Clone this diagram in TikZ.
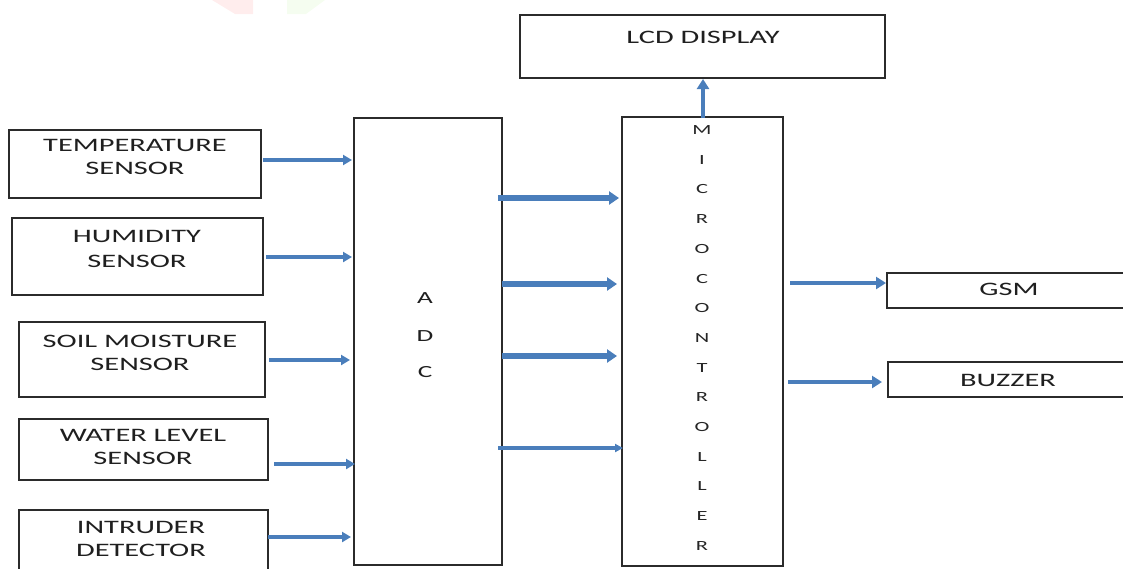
\documentclass[tikz,border=0pt]{standalone}
\usepackage{fontspec}
\setmainfont{Carlito}[FakeStretch=1.6]
\usetikzlibrary{arrows.meta}
\definecolor{arrowblue}{HTML}{4A7EBB}
\definecolor{boxline}{HTML}{2B2B2B}
\definecolor{wmpink}{HTML}{FFEDED}
\definecolor{wmgreen}{HTML}{F5FDF0}
\tikzset{
  blockbox/.style={draw=boxline, line width=1.7pt, fill=white},
  lbl/.style={anchor=base, inner sep=0pt, font=\fontsize{19}{23}\selectfont, text=black!88},
  adcl/.style={anchor=base, inner sep=0pt, font=\fontsize{17}{20}\selectfont, text=black!88},
  mcul/.style={anchor=base, inner sep=0pt, font=\fontsize{14}{16}\selectfont, text=black!85},
  inarrow/.style={draw=arrowblue, line width=4pt, -{Triangle[length=9pt,width=10pt]}},
  midarrow/.style={draw=arrowblue, line width=5.5pt, -{Triangle[length=10pt,width=13pt]}},
  thinarrow/.style={draw=arrowblue, line width=3.2pt, -{Triangle[length=8pt,width=8pt]}},
  outarrow/.style={draw=arrowblue, line width=4.8pt, -{Triangle[length=10pt,width=12pt]}},
}
\begin{document}
\begin{tikzpicture}[x=1pt,y=-1pt]
\useasboundingbox (0,0) rectangle (1123,568);
% faint watermark fragments
\fill[wmpink] (212,0) -- (253,0) -- (253,14) -- (235,14) -- cycle;
\fill[wmgreen] (287,0) -- (325,0) -- (306,14) -- (287,14) -- cycle;
% boxes
\draw[blockbox] (520,15) rectangle (885,78);
\draw[blockbox] (622,117) rectangle (783,566);
\draw[blockbox] (354,118) rectangle (502,565);
\draw[blockbox] (9,130) rectangle (261,198);
\draw[blockbox] (12,218) rectangle (263,295);
\draw[blockbox] (19,322) rectangle (265,397);
\draw[blockbox] (19,419) rectangle (268,480);
\draw[blockbox] (19,510) rectangle (268,580);
\draw[blockbox] (887,273) rectangle (1135,308);
\draw[blockbox] (888,362) rectangle (1135,397);
% texts
\node[lbl] (lcdt) at (703,43) {LCD DISPLAY};
\node[lbl] (t1a) at (135,151) {TEMPERATURE};
\node[lbl] (t1b) at (135,174) {SENSOR};
\node[lbl] (t2a) at (137,242) {HUMIDITY};
\node[lbl] (t2b) at (137,267) {SENSOR};
\node[lbl] (t3a) at (140,347) {SOIL MOISTURE};
\node[lbl] (t3b) at (140,370) {SENSOR};
\node[lbl] (t4a) at (143,441) {WATER LEVEL};
\node[lbl] (t4b) at (143,464) {SENSOR};
\node[lbl] (t5a) at (141,533) {INTRUDER};
\node[lbl] (t5b) at (141,556) {DETECTOR};
\node[lbl] (gsmt) at (1009,295) {GSM};
\node[lbl] (buzt) at (1008,386) {BUZZER};
\node[adcl] (adcA) at (425,303.5) {A};
\node[adcl] (adcD) at (425,341.5) {D};
\node[adcl] (adcC) at (425,377.5) {C};
\foreach \ch [count=\i from 0] in {M,I,C,R,O,C,O,N,T,R,O,L,L,E,R}{
  \node[mcul] (mc\i) at (702,{134.5+\i*29.7}) {\ch};
}
% arrow end coordinates
\coordinate (s1) at (263,160); \coordinate (e1) at (352,160);
\coordinate (s2) at (266,257); \coordinate (e2) at (352,257);
\coordinate (s3) at (269,360); \coordinate (e3) at (350,360);
\coordinate (s4) at (274,464); \coordinate (e4) at (355,464);
\coordinate (s5) at (268,537); \coordinate (e5) at (351,537);
\coordinate (m1s) at (498,198); \coordinate (m1e) at (619,198);
\coordinate (m2s) at (502,284); \coordinate (m2e) at (617,284);
\coordinate (m3s) at (502,356); \coordinate (m3e) at (617,356);
\coordinate (m4s) at (498,448); \coordinate (m4e) at (623,448);
\coordinate (ups) at (703,118); \coordinate (upe) at (703,79);
\coordinate (g1s) at (790,283); \coordinate (g1e) at (886,283);
\coordinate (b1s) at (788,382); \coordinate (b1e) at (882,382);
% arrows
\draw[inarrow] (s1) -- (e1);
\draw[inarrow] (s2) -- (e2);
\draw[inarrow] (s3) -- (e3);
\draw[inarrow] (s4) -- (e4);
\draw[inarrow] (s5) -- (e5);
\draw[midarrow] (m1s) -- (m1e);
\draw[midarrow] (m2s) -- (m2e);
\draw[midarrow] (m3s) -- (m3e);
\draw[thinarrow] (m4s) -- (m4e);
\draw[outarrow] (ups) -- (upe);
\draw[outarrow] (g1s) -- (g1e);
\draw[outarrow] (b1s) -- (b1e);
\end{tikzpicture}
\end{document}
